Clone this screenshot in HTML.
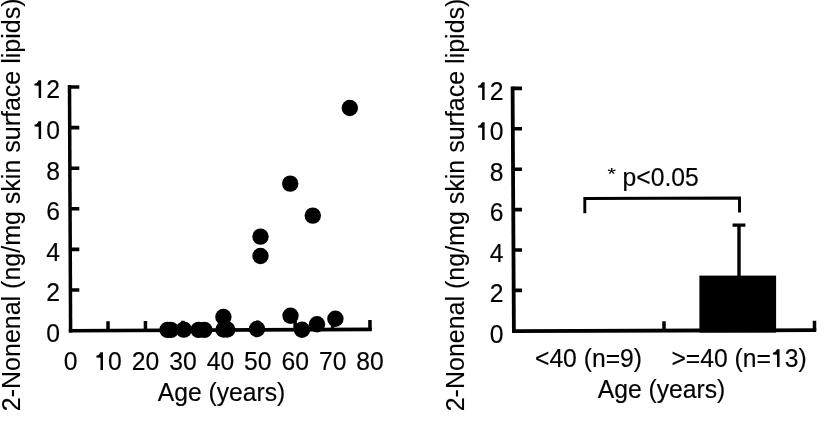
<!DOCTYPE html>
<html><head><meta charset="utf-8">
<style>
html,body{margin:0;padding:0;background:#fff;width:825px;height:422px;overflow:hidden}
svg{display:block;filter:grayscale(1)}
text{font-family:"Liberation Sans",sans-serif;font-size:24.7px;fill:#000;stroke:#000;stroke-width:0.15px}
.yl{font-size:25px;stroke:#000;stroke-width:0.1px}
</style></head><body>
<svg width="825" height="422" viewBox="0 0 825 422">
<rect width="825" height="422" fill="#fff"/>
<g>
<g stroke="#000" fill="none">
<path stroke-width="3.5" d="M69.5 85 L70.6 332.6"/>
<path stroke-width="3.6" d="M68.8 330.76 L371.8 329.39"/>
<path stroke-width="3.6" d="M69.51 87.00 H79.3 M69.69 127.60 H79.3 M69.87 168.20 H79.3 M70.05 208.80 H79.3 M70.23 249.40 H79.3 M70.41 290.00 H79.3"/>
<path stroke-width="3.5" d="M108.02 331.08 V321.18 M145.44 330.91 V321.01 M182.86 330.74 V320.84 M220.28 330.57 V320.67 M257.70 330.41 V320.51 M295.12 330.24 V320.34 M332.54 330.07 V320.17 M369.96 329.90 V320.00"/>
</g>
<g fill="#000"><circle cx="167.6" cy="329.9" r="8.2"/><circle cx="170.8" cy="329.9" r="8.2"/><circle cx="183.8" cy="329.6" r="8.2"/><circle cx="198.6" cy="329.9" r="8.2"/><circle cx="204.3" cy="329.9" r="8.2"/><circle cx="223.4" cy="317" r="8.2"/><circle cx="223.5" cy="329.5" r="8.2"/><circle cx="227.2" cy="329.5" r="8.2"/><circle cx="257" cy="329" r="8.2"/><circle cx="260.5" cy="236.6" r="8.2"/><circle cx="260.5" cy="256" r="8.2"/><circle cx="290.2" cy="183.6" r="8.2"/><circle cx="312.8" cy="215.6" r="8.2"/><circle cx="290.5" cy="315.7" r="8.2"/><circle cx="302" cy="329.8" r="8.2"/><circle cx="317" cy="324.3" r="8.2"/><circle cx="335.4" cy="318.7" r="8.2"/><circle cx="349.8" cy="108" r="8.2"/></g>
<text transform="matrix(1 0 0 1.06 0 -5.880)" x="60" y="98" text-anchor="end"><tspan style="fill:none;stroke:none">1</tspan>2</text>
<text transform="matrix(1 0 0 1.06 0 -8.340)" x="60" y="139" text-anchor="end"><tspan style="fill:none;stroke:none">1</tspan>0</text>
<text transform="matrix(1 0 0 1.06 0 -10.800)" x="60" y="180" text-anchor="end">8</text>
<text transform="matrix(1 0 0 1.06 0 -13.200)" x="60" y="220" text-anchor="end">6</text>
<text transform="matrix(1 0 0 1.06 0 -15.660)" x="60" y="261" text-anchor="end">4</text>
<text transform="matrix(1 0 0 1.06 0 -18.060)" x="60" y="301" text-anchor="end">2</text>
<text transform="matrix(1 0 0 1.06 0 -20.520)" x="60" y="342" text-anchor="end">0</text>
<text transform="matrix(1 0 0 1.06 0 -22.200)" x="70.7" y="370" text-anchor="middle">0</text>
<text transform="matrix(1 0 0 1.06 0 -22.200)" x="108.12" y="370" text-anchor="middle"><tspan style="fill:none;stroke:none">1</tspan>0</text>
<text transform="matrix(1 0 0 1.06 0 -22.200)" x="145.54" y="370" text-anchor="middle">20</text>
<text transform="matrix(1 0 0 1.06 0 -22.200)" x="182.96" y="370" text-anchor="middle">30</text>
<text transform="matrix(1 0 0 1.06 0 -22.200)" x="220.38" y="370" text-anchor="middle">40</text>
<text transform="matrix(1 0 0 1.06 0 -22.200)" x="257.8" y="370" text-anchor="middle">50</text>
<text transform="matrix(1 0 0 1.06 0 -22.200)" x="295.22" y="370" text-anchor="middle">60</text>
<text transform="matrix(1 0 0 1.06 0 -22.200)" x="332.64" y="370" text-anchor="middle">70</text>
<text transform="matrix(1 0 0 1.06 0 -22.200)" x="370.06" y="370" text-anchor="middle">80</text>
<text transform="matrix(1 0 0 1.06 0 -24.060)" x="221.5" y="401" text-anchor="middle">Age (years)</text>
<text class="yl" transform="translate(19.6,411.2) rotate(-90)" x="0" y="0">2-Nonenal (ng/mg skin surface lipids)</text>
<g stroke="#000" fill="none">
<path stroke-width="3.8" d="M512.6 86.5 L513.9 332.8"/>
<path stroke-width="3.8" d="M512 331.10 L816.3 330.10"/>
<path stroke-width="3.5" d="M814.5 330.60 V320.8 M664 331.10 V321.2"/>
<path stroke-width="3.6" d="M512.61 88.40 H522 M512.82 128.80 H522 M513.04 169.20 H522 M513.25 209.60 H522 M513.46 250.00 H522 M513.68 290.40 H522"/>
<path stroke-width="2.9" d="M584.8 213.2 V198.5 L739.5 198.0 V212.6"/>
<path stroke-width="3.4" d="M739.0 276 V225.1 M732.6 225.1 H745.4"/>
</g>
<rect x="699.4" y="275.6" width="76.7" height="57" fill="#000"/>
<text transform="matrix(1 0 0 1.06 0 -6.000)" x="503.5" y="100" text-anchor="end"><tspan style="fill:none;stroke:none">1</tspan>2</text>
<text transform="matrix(1 0 0 1.06 0 -8.400)" x="503.5" y="140" text-anchor="end"><tspan style="fill:none;stroke:none">1</tspan>0</text>
<text transform="matrix(1 0 0 1.06 0 -10.860)" x="503.5" y="181" text-anchor="end">8</text>
<text transform="matrix(1 0 0 1.06 0 -13.260)" x="503.5" y="221" text-anchor="end">6</text>
<text transform="matrix(1 0 0 1.06 0 -15.720)" x="503.5" y="262" text-anchor="end">4</text>
<text transform="matrix(1 0 0 1.06 0 -18.120)" x="503.5" y="302" text-anchor="end">2</text>
<text transform="matrix(1 0 0 1.06 0 -20.580)" x="503.5" y="343" text-anchor="end">0</text>
<text transform="matrix(1 0 0 1.06 0 -22.020)" x="588.5" y="367" text-anchor="middle">&lt;40 (n=9)</text>
<text transform="matrix(1 0 0 1.06 0 -22.020)" x="739" y="367" text-anchor="middle">&gt;=40 (n=<tspan style="fill:none;stroke:none">1</tspan>3)</text>
<text transform="matrix(1 0 0 1.06 0 -23.880)" x="661.5" y="398" text-anchor="middle">Age (years)</text>
<text transform="matrix(1 0 0 0.8 0 36.100)" x="611.6" y="180.5" text-anchor="middle" style="font-size:21.5px">*</text>
<text transform="matrix(1 0 0 1.06 0 -11.160)" x="622.6" y="186" text-anchor="start">p&lt;0.05</text>
<text class="yl" transform="translate(464.0,411.3) rotate(-90)" x="0" y="0">2-Nonenal (ng/mg skin surface lipids)</text>
<path fill="#000" d="M38.63 98.00 V85.70 L34.53 85.60 V83.70 Q37.43 83.30 38.63 80.30 H41.13 V98.00 Z M38.63 139.00 V126.70 L34.53 126.60 V124.70 Q37.43 124.30 38.63 121.30 H41.13 V139.00 Z M100.48 370.00 V357.70 L96.38 357.60 V355.70 Q99.28 355.30 100.48 352.30 H102.98 V370.00 Z M482.13 100.00 V87.70 L478.03 87.60 V85.70 Q480.93 85.30 482.13 82.30 H484.63 V100.00 Z M482.13 140.00 V127.70 L478.03 127.60 V125.70 Q480.93 125.30 482.13 122.30 H484.63 V140.00 Z M777.04 367.00 V354.70 L772.94 354.60 V352.70 Q775.84 352.30 777.04 349.30 H779.54 V367.00 Z"/>
</g></svg>
</body></html>
